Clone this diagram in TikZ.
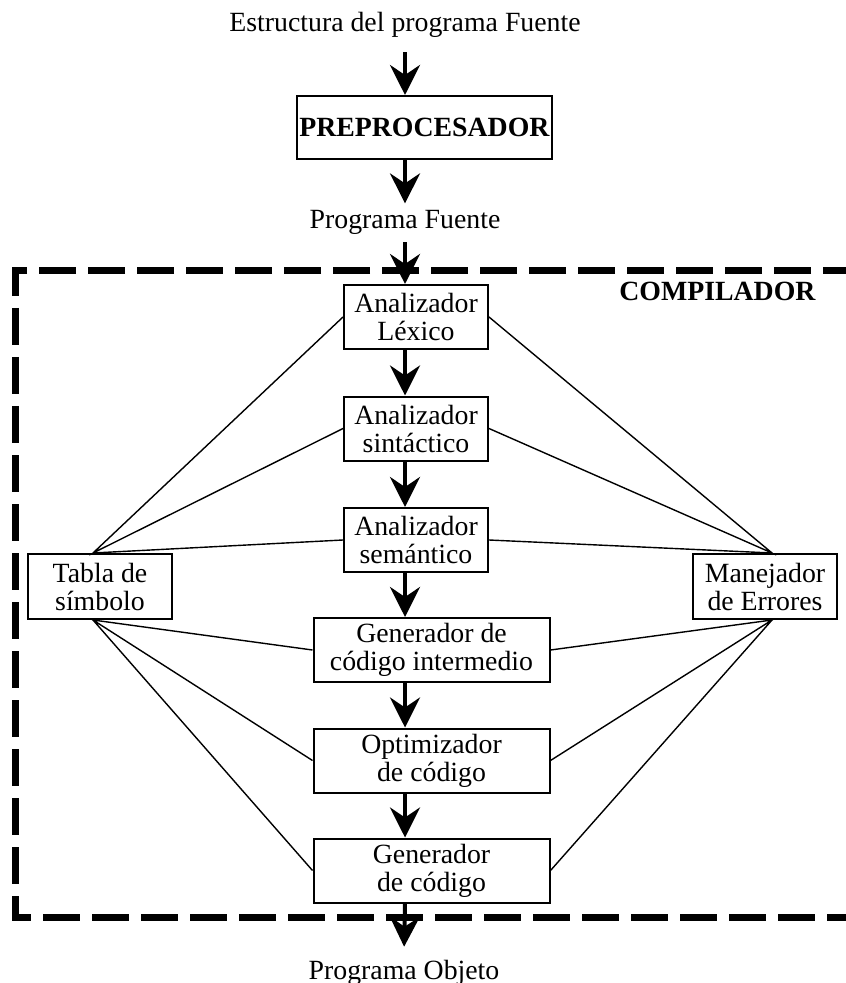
\documentclass[tikz,border=0pt]{standalone}
\usepackage{fontspec}
\setmainfont{Liberation Serif}
\usetikzlibrary{arrows.meta}
\begin{document}
\begin{tikzpicture}[x=0.5pt,y=-0.5pt, every node/.style={align=center,font=\fontsize{13.9}{14}\selectfont},
	etapa/.style={draw,line width=1pt,minimum width=72pt,minimum height=32pt,inner sep=0pt},
	ancha/.style={etapa,minimum width=118pt},
	rotulo/.style={inner sep=3.5pt},
	flujo/.style={-{Stealth[length=15pt,width=15pt,inset=5pt]},line width=2pt},
	enlace/.style={line width=0.7pt},
	marco/.style={line width=3.5pt,dash pattern=on 18.3pt off 6.2pt}]
\useasboundingbox (0,0) rectangle (845,983);
\draw[marco] (860,271) -| (15,917) -- (860,917);
\node[rotulo,anchor=base] (estructura) at (405,32) {Estructura del programa Fuente};
\node[etapa,minimum width=127.5pt,minimum height=31.5pt] (prep) at (424.5,127.5) {\textbf{PREPROCESADOR}};
\node[rotulo,anchor=base] (fuente) at (405,229) {Programa Fuente};
\node[anchor=base] (compilador) at (717.5,301) {\textbf{COMPILADOR}};
\node[etapa] (lexico) at (416,317) {Analizador\\Léxico};
\node[etapa] (sintactico) at (416,428.5) {Analizador\\sintáctico};
\node[etapa] (semantico) at (416,540) {Analizador\\semántico};
\node[ancha] (intermedio) at (431.5,650) {Generador de\\código intermedio};
\node[ancha] (optimizador) at (431.5,760.5) {Optimizador\\de código};
\node[ancha] (generador) at (431.5,870.5) {Generador\\de código};
\node[etapa,minimum height=32.5pt] (tabla) at (100,586.5) {Tabla de\\símbolo};
\node[etapa,minimum height=32.5pt] (errores) at (765,586.5) {Manejador\\de Errores};
\node[rotulo,anchor=base] (objeto) at (404,979) {Programa Objeto};
\coordinate (ta) at ([xshift=-3.5pt]tabla.north);
\coordinate (tb) at ([xshift=-3.5pt]tabla.south);
\coordinate (ea) at ([xshift=3.5pt]errores.north);
\coordinate (eb) at ([xshift=3.5pt]errores.south);
\draw[enlace] (lexico.west) -- (ta) -- (sintactico.west) (ta) -- (semantico.west);
\draw[enlace] (intermedio.west) -- (tb) -- (optimizador.west) (tb) -- (generador.west);
\draw[enlace] (lexico.east) -- (ea) -- (sintactico.east) (ea) -- (semantico.east);
\draw[enlace] (intermedio.east) -- (eb) -- (optimizador.east) (eb) -- (generador.east);
\draw[flujo,shorten <=3.5pt] (estructura.south) -- (prep.north -| estructura);
\draw[flujo] (prep.south -| estructura) -- (fuente.north);
\draw[flujo] (fuente.south) -- (lexico.north -| fuente);
\draw[flujo] (lexico.south -| estructura) -- (sintactico.north -| estructura);
\draw[flujo] (sintactico.south -| estructura) -- (semantico.north -| estructura);
\draw[flujo] (semantico.south -| estructura) -- (intermedio.north -| estructura);
\draw[flujo] (intermedio.south -| estructura) -- (optimizador.north -| estructura);
\draw[flujo] (optimizador.south -| estructura) -- (generador.north -| estructura);
\draw[flujo,shorten >=2.8pt] (generador.south -| estructura) -- (objeto.north);
%\draw[enlace] (tabla.east) -- (errores.west);
\end{tikzpicture}
\end{document}
